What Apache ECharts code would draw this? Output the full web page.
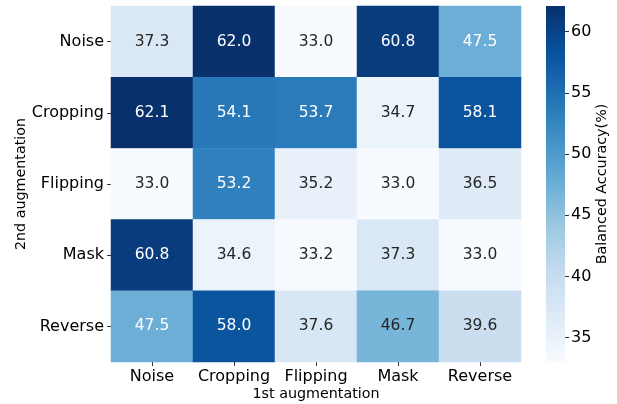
<!DOCTYPE html>
<html><head><meta charset="utf-8">
<script src="https://cdn.jsdelivr.net/npm/echarts@6/dist/echarts.min.js"></script>
<style>html,body{margin:0;padding:0;background:#fff}#c{width:617px;height:404px}</style>
</head><body><div id="c"></div>
<script>
const firstAug = ['Noise','Cropping','Flipping','Mask','Reverse'];
const secondAug = ['Noise','Cropping','Flipping','Mask','Reverse'];
const rowNoise    = [37.3, 62.0, 33.0, 60.8, 47.5];
const rowCropping = [62.1, 54.1, 53.7, 34.7, 58.1];
const rowFlipping = [33.0, 53.2, 35.2, 33.0, 36.5];
const rowMask     = [60.8, 34.6, 33.2, 37.3, 33.0];
const rowReverse  = [47.5, 58.0, 37.6, 46.7, 39.6];
const colorbarTicks = [35, 40, 45, 50, 55, 60];
const vMin = 33.0, vMax = 62.1;

const rows = [rowNoise, rowCropping, rowFlipping, rowMask, rowReverse];
const blues = ['#f7fbff','#deebf7','#c6dbef','#9ecae1','#6baed6','#4292c6','#2171b5','#08519c','#08306b'];
const data = [];
rows.forEach((r, yi) => r.forEach((v, xi) => {
  data.push({value: [xi, yi, v], label: {color: v > 47 ? '#ffffff' : '#262626'}});
}));
const font = 'DejaVu Sans';
const chart = echarts.init(document.getElementById('c'), null, {renderer: 'canvas'});
chart.setOption({
  animation: false,
  textStyle: {fontFamily: font},
  grid: [
    {left: 111, top: 6, width: 410, height: 356, outerBoundsMode: 'none', containLabel: false},
    {left: 546, top: 6, width: 19, height: 356, outerBoundsMode: 'none', containLabel: false}
  ],
  xAxis: [
    {type: 'category', data: firstAug, gridIndex: 0, position: 'bottom',
     name: '1st augmentation', nameLocation: 'middle', nameGap: 25, nameMoveOverlap: false,
     nameTextStyle: {fontSize: 14.3, color: '#000', fontFamily: font},
     axisLine: {show: false}, splitLine: {show: false},
     axisTick: {show: true, alignWithLabel: true, interval: 0, length: 4, lineStyle: {color: '#333'}},
     axisLabel: {fontSize: 16, color: '#000', margin: 7, interval: 0, fontFamily: font}},
    {type: 'category', gridIndex: 1, show: false, data: ['cb']}
  ],
  yAxis: [
    {type: 'category', data: secondAug, gridIndex: 0, inverse: true,
     name: '2nd augmentation', nameLocation: 'middle', nameGap: 83, nameRotate: 90, nameMoveOverlap: false,
     nameTextStyle: {fontSize: 14.3, color: '#000', fontFamily: font},
     axisLine: {show: false}, splitLine: {show: false},
     axisTick: {show: true, alignWithLabel: true, interval: 0, length: 4, lineStyle: {color: '#333'}},
     axisLabel: {fontSize: 16, color: '#000', margin: 7, interval: 0, fontFamily: font}},
    {type: 'value', gridIndex: 1, position: 'right', min: vMin, max: vMax,
     name: 'Balanced Accuracy(%)', nameLocation: 'middle', nameGap: 30, nameRotate: 90, nameMoveOverlap: false,
     nameTextStyle: {fontSize: 14.3, color: '#000', fontFamily: font},
     axisLine: {show: false}, splitLine: {show: false},
     axisTick: {show: true, length: 4, lineStyle: {color: '#333'}, customValues: colorbarTicks},
     axisLabel: {fontSize: 16, color: '#000', margin: 6, fontFamily: font, customValues: colorbarTicks}}
  ],
  visualMap: {
    type: 'continuous', min: vMin, max: vMax, seriesIndex: 0, show: false,
    inRange: {color: blues}
  },
  series: [{
    type: 'heatmap', xAxisIndex: 0, yAxisIndex: 0, data: data,
    label: {show: true, fontSize: 15.5, fontFamily: font, formatter: p => p.value[2].toFixed(1)},
    itemStyle: {borderWidth: 0},
    emphasis: {disabled: true}
  }, {
    type: 'bar', xAxisIndex: 1, yAxisIndex: 1, data: [vMax], barWidth: '100%', clip: true,
    silent: true,
    itemStyle: {color: {type: 'linear', x: 0, y: 1, x2: 0, y2: 0, colorStops: blues.map((c, i) => ({offset: i / (blues.length - 1), color: c}))}}
  }]
});
</script></body></html>
